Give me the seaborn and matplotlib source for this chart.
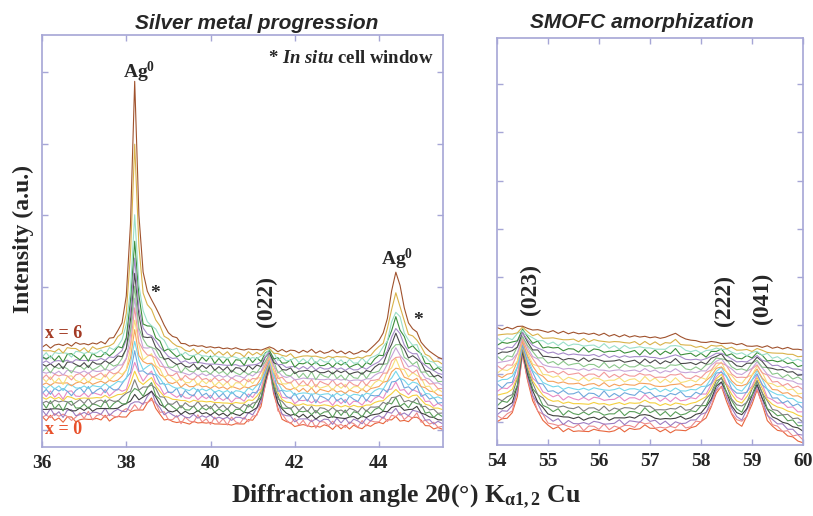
import numpy as np
import pandas as pd
import matplotlib
matplotlib.use("Agg")
from matplotlib import pyplot as plt
import seaborn as sns

# composition of each pattern, x = 0 (bottom) ... x = 6 (top)
x_values = [0.0, 0.3, 0.6, 0.9, 1.2, 1.5, 1.8, 2.1, 2.4, 2.7, 3.0,
            3.3, 3.6, 3.9, 4.2, 4.5, 4.8, 5.1, 5.4, 5.7, 6.0]
# share of the "top" profile in each pattern (read from the stacking)
mix = [0.0, 0.04, 0.08, 0.13, 0.18, 0.23, 0.28, 0.33, 0.38, 0.43, 0.48,
       0.53, 0.58, 0.63, 0.68, 0.73, 0.78, 0.83, 0.88, 0.93, 1.0]
# Ag0 peak heights above background
ag38_height = [0.02, 0.04, 0.06, 0.10, 0.15, 0.20, 0.28, 0.36, 0.45, 0.55, 0.65,
               0.75, 0.85, 0.95, 1.05, 1.20, 1.35, 1.55, 1.85, 2.80, 3.60]
ag44_height = [0.02, 0.03, 0.04, 0.06, 0.08, 0.10, 0.12, 0.15, 0.18, 0.21, 0.24,
               0.27, 0.30, 0.34, 0.38, 0.43, 0.48, 0.55, 0.62, 0.80, 1.04]
# how strongly each pattern carries the counting noise
ripple_weight = [0.6, -1.2, 1.0, -0.4, 1.3, -0.9, 0.3, 1.1, -1.3, 0.7, -0.6,
                 1.2, -1.0, 0.5, -1.1, 0.9, -0.3, 1.2, -0.8, 0.6, -0.2]
colors = ['#e8663d', '#ee8a8a', '#9d7cc1', '#3f3f3f', '#5a9e5a', '#7f7f7f', '#f4d03f',
          '#e88bc4', '#6fa8dc', '#76d7ea', '#f5a25d', '#f7e07a', '#f29a9a', '#c7a4d8',
          '#8bc68b', '#4a4a4a', '#a58ac8', '#3c8f3c', '#9adfc9', '#d9b24a', '#a0522d']

## left window 36 - 45.5 deg, step 0.1
tt_left = np.round(np.arange(36.0, 45.51, 0.1), 1)
low_left = [0.17, 0.14, 0.18, 0.15, 0.16, 0.13, 0.17, 0.15, 0.12, 0.16,
            0.14, 0.17, 0.13, 0.16, 0.15, 0.18, 0.14, 0.16, 0.17, 0.19,
            0.20, 0.23, 0.26, 0.25, 0.29, 0.36, 0.42, 0.31, 0.21, 0.16,
            0.13, 0.11, 0.12, 0.09, 0.11, 0.08, 0.10, 0.12, 0.09, 0.10,
            0.08, 0.10, 0.07, 0.09, 0.06, 0.09, 0.08, 0.07, 0.10, 0.12,
            0.14, 0.20, 0.34, 0.62, 0.86, 0.52, 0.28, 0.16, 0.11, 0.08,
            0.07, 0.05, 0.08, 0.04, 0.06, 0.03, 0.05, 0.07, 0.04, 0.03,
            0.05, 0.02, 0.04, 0.03, 0.06, 0.02, 0.04, 0.05, 0.06, 0.08,
            0.09, 0.10, 0.11, 0.13, 0.15, 0.13, 0.11, 0.12, 0.15, 0.18,
            0.11, 0.07, 0.05, 0.03, 0.02, 0.01]
high_left = [1.16, 1.19, 1.15, 1.18, 1.20, 1.17, 1.21, 1.18, 1.22, 1.19,
             1.21, 1.18, 1.22, 1.20, 1.23, 1.21, 1.24, 1.22, 1.25, 1.24,
             1.25, 1.26, 1.27, 1.28, 1.30, 1.33, 1.36, 1.31, 1.27, 1.24,
             1.22, 1.20, 1.21, 1.18, 1.20, 1.17, 1.19, 1.16, 1.18, 1.15,
             1.17, 1.14, 1.16, 1.13, 1.15, 1.12, 1.15, 1.13, 1.11, 1.14,
             1.12, 1.13, 1.11, 1.14, 1.16, 1.13, 1.10, 1.12, 1.09, 1.12,
             1.10, 1.08, 1.11, 1.09, 1.12, 1.08, 1.10, 1.07, 1.09, 1.11,
             1.08, 1.10, 1.07, 1.09, 1.06, 1.08, 1.10, 1.07, 1.09, 1.12,
             1.13, 1.14, 1.15, 1.16, 1.17, 1.18, 1.19, 1.18, 1.21, 1.23,
             1.15, 1.10, 1.07, 1.03, 1.01, 0.99]
ripple_left = [0.03, -0.02, 0.04, -0.03, 0.01, -0.04, 0.02, 0.05, -0.01, -0.03,
               0.02, -0.04, 0.03, 0.00, -0.02, 0.04, -0.03, 0.01, 0.03, -0.02,
               -0.04, 0.02, -0.01, 0.03, -0.03, 0.02, 0.04, -0.02, 0.01, -0.04,
               0.03, 0.01, -0.03, 0.04, -0.02, 0.00, 0.03, -0.04, 0.02, -0.01,
               0.04, -0.03, 0.02, -0.02, 0.03, -0.04, 0.01, 0.02, -0.03, 0.04,
               -0.01, 0.03, -0.02, 0.02, 0.00, -0.03, 0.04, -0.02, 0.01, 0.03,
               -0.04, 0.02, -0.01, 0.03, -0.03, 0.04, -0.02, 0.00, 0.02, -0.04,
               0.03, -0.01, 0.04, -0.03, 0.01, 0.02, -0.04, 0.03, -0.02, 0.01,
               0.02, -0.03, 0.04, -0.01, 0.03, -0.04, 0.02, -0.02, 0.03, -0.01,
               0.04, -0.02, 0.01, -0.03, 0.02, 0.00]
ag38_x = [37.6, 37.7, 37.8, 37.9, 38.0, 38.1, 38.2, 38.3, 38.4, 38.5,
          38.6, 38.7, 38.8, 38.9, 39.0, 39.1, 39.2, 39.3]
ag38_shape = [0.01, 0.02, 0.04, 0.07, 0.17, 0.45, 1.0, 0.48, 0.25, 0.17,
              0.13, 0.11, 0.09, 0.06, 0.04, 0.03, 0.02, 0.01]
ag44_x = [43.7, 43.8, 43.9, 44.0, 44.1, 44.2, 44.3, 44.4, 44.5, 44.6,
          44.7, 44.8, 44.9, 45.0, 45.1, 45.2, 45.3, 45.4]
ag44_shape = [0.02, 0.04, 0.07, 0.12, 0.20, 0.40, 0.75, 1.0, 0.80, 0.50,
              0.30, 0.20, 0.13, 0.08, 0.05, 0.03, 0.02, 0.01]

## right window 54 - 60 deg, step 0.1
tt_right = np.round(np.arange(54.0, 60.01, 0.1), 1)
low_right = [0.02, 0.04, 0.08, 0.18, 0.55, 1.40, 0.85, 0.45, 0.20, 0.05,
             -0.08, -0.14, -0.12, -0.18, -0.15, -0.20, -0.17, -0.22, -0.19, -0.16,
             -0.20, -0.17, -0.22, -0.18, -0.15, -0.19, -0.14, -0.17, -0.12, -0.08,
             -0.12, -0.16, -0.20, -0.17, -0.21, -0.18, -0.15, -0.19, -0.14, -0.08,
             -0.02, 0.10, 0.30, 0.60, 0.72, 0.45, 0.15, -0.02, -0.08, 0.10,
             0.38, 0.66, 0.35, 0.05, -0.10, -0.17, -0.22, -0.28, -0.33, -0.38,
             -0.44]
high_right = [1.95, 1.92, 1.96, 1.93, 1.97, 1.99, 1.94, 1.90, 1.92, 1.88,
              1.86, 1.89, 1.84, 1.87, 1.83, 1.86, 1.82, 1.85, 1.81, 1.84,
              1.80, 1.83, 1.78, 1.81, 1.77, 1.80, 1.76, 1.79, 1.75, 1.78,
              1.74, 1.77, 1.73, 1.76, 1.79, 1.84, 1.76, 1.72, 1.70, 1.68,
              1.66, 1.64, 1.67, 1.65, 1.63, 1.62, 1.64, 1.60, 1.62, 1.58,
              1.56, 1.58, 1.55, 1.57, 1.53, 1.55, 1.52, 1.54, 1.51, 1.50,
              1.49]
ripple_right = [-0.03, 0.04, -0.01, 0.02, -0.04, 0.03, 0.01, -0.02, 0.04, -0.03,
                0.02, -0.01, 0.03, -0.04, 0.02, 0.00, -0.03, 0.04, -0.02, 0.01,
                0.03, -0.04, 0.02, -0.01, 0.04, -0.03, 0.01, 0.02, -0.04, 0.03,
                -0.02, 0.04, -0.01, 0.03, -0.03, 0.02, -0.04, 0.01, 0.03, -0.02,
                0.04, -0.03, 0.02, -0.01, 0.03, -0.04, 0.02, 0.00, -0.02, 0.04,
                -0.03, 0.01, 0.03, -0.04, 0.02, -0.01, 0.04, -0.02, 0.03, -0.03,
                0.01]


def on_grid(grid, xs, vals):
    return pd.Series(vals, index=np.round(xs, 1)).reindex(grid, fill_value=0.0).to_numpy()


peak38 = on_grid(tt_left, ag38_x, ag38_shape)
peak44 = on_grid(tt_left, ag44_x, ag44_shape)
names = [f"x={v:.1f}" for v in x_values]

left_rows, right_rows = [], []
for i, name in enumerate(names):
    m = mix[i]
    r = ripple_weight[i]
    yl = (1 - m) * np.array(low_left) + m * np.array(high_left) \
        + ag38_height[i] * peak38 + ag44_height[i] * peak44 + r * np.array(ripple_left)
    yr = (1 - m) * np.array(low_right) + m * np.array(high_right) + r * np.array(ripple_right)
    left_rows.append(pd.DataFrame({"two_theta": tt_left, "intensity": yl, "trace": name}))
    right_rows.append(pd.DataFrame({"two_theta": tt_right, "intensity": yr, "trace": name}))
df_left = pd.concat(left_rows, ignore_index=True)
df_right = pd.concat(right_rows, ignore_index=True)
pal = dict(zip(names, colors))

sns.set_theme(style="ticks")
plt.rcParams['font.family'] = ['Liberation Serif', 'DejaVu Serif']
plt.rcParams['font.weight'] = 'bold'
plt.rcParams['mathtext.fontset'] = 'custom'
plt.rcParams['mathtext.rm'] = 'Liberation Serif:bold'
plt.rcParams['mathtext.it'] = 'Liberation Serif:italic:bold'
plt.rcParams['mathtext.bf'] = 'Liberation Serif:bold'

frame = '#a6a6d6'
fig = plt.figure(figsize=(8.13, 5.16), dpi=100)
ax1 = fig.add_axes([0.0517, 0.1337, 0.4932, 0.7985])
ax2 = fig.add_axes([0.6113, 0.1376, 0.3764, 0.7888])

sns.lineplot(data=df_left, x="two_theta", y="intensity", hue="trace", hue_order=names,
             palette=pal, estimator=None, sort=False, legend=False, lw=0.8, ax=ax1)
sns.lineplot(data=df_right, x="two_theta", y="intensity", hue="trace", hue_order=names,
             palette=pal, estimator=None, sort=False, legend=False, lw=0.8, ax=ax2)

ax1.set_xlim(36, 45.52)
ax1.set_ylim(-0.24, 5.52)
ax1.set_xticks([36, 38, 40, 42, 44])
ax1.set_yticks([0, 1, 2, 3, 4, 5])
ax2.set_xlim(54, 60)
ax2.set_ylim(-0.48, 7.96)
ax2.set_xticks([54, 55, 56, 57, 58, 59, 60])
ax2.set_yticks([0, 1, 2, 3, 4, 5, 6, 7])

for ax in (ax1, ax2):
    ax.set_xlabel("")
    ax.set_ylabel("")
    ax.set_yticklabels([])
    for s in ax.spines.values():
        s.set_color(frame)
        s.set_linewidth(1.2)
    ax.tick_params(direction='in', length=4, width=1, color=frame, top=True, right=True,
                   labelsize=14, pad=6)
    for lab in ax.get_xticklabels():
        lab.set_fontweight('bold')

bold = dict(fontweight='bold')
# left panel labels
ax1.text(38.3, 5.0, r"Ag$^{0}$", ha='center', va='center', fontsize=14, **bold)
ax1.text(44.43, 2.38, r"Ag$^{0}$", ha='center', va='center', fontsize=14, **bold)
ax1.text(38.68, 1.90, "*", ha='center', va='center', fontsize=14, **bold)
ax1.text(44.93, 1.53, "*", ha='center', va='center', fontsize=14, **bold)
ax1.text(41.33, 1.79, "(022)", rotation=90, ha='center', va='center', fontsize=17, **bold)
ax1.text(45.29, 5.19, r"* $\mathit{In\ situ}$ cell window", ha='right', va='center',
         fontsize=13.5, **bold)
ax1.text(36.07, 1.35, "x = 6", ha='left', va='center', fontsize=13, color='#a33a24', **bold)
ax1.text(36.07, 0.0, "x = 0", ha='left', va='center', fontsize=13, color='#e8502a', **bold)
ax1.text(0.536, 1.029, "Silver metal progression", transform=ax1.transAxes, ha='center',
         va='center', fontsize=15, family='Liberation Sans', style='italic', weight='bold')

# right panel labels
ax2.text(54.66, 2.74, "(023)", rotation=90, ha='center', va='center', fontsize=17, **bold)
ax2.text(58.46, 2.51, "(222)", rotation=90, ha='center', va='center', fontsize=17, **bold)
ax2.text(59.20, 2.57, "(041)", rotation=90, ha='center', va='center', fontsize=17, **bold)
ax2.text(0.474, 1.039, "SMOFC amorphization", transform=ax2.transAxes, ha='center',
         va='center', fontsize=15, family='Liberation Sans', style='italic', weight='bold')

fig.text(0.029, 0.537, "Intensity (a.u.)", rotation=90, ha='center', va='center',
         fontsize=17, **bold)
fig.text(0.5, 0.025, r"Diffraction angle 2θ(°) K$_{\mathrm{α1,2}}$ Cu", ha='center',
         va='baseline', fontsize=18.5, **bold)

fig.savefig("out.png", dpi=100)
